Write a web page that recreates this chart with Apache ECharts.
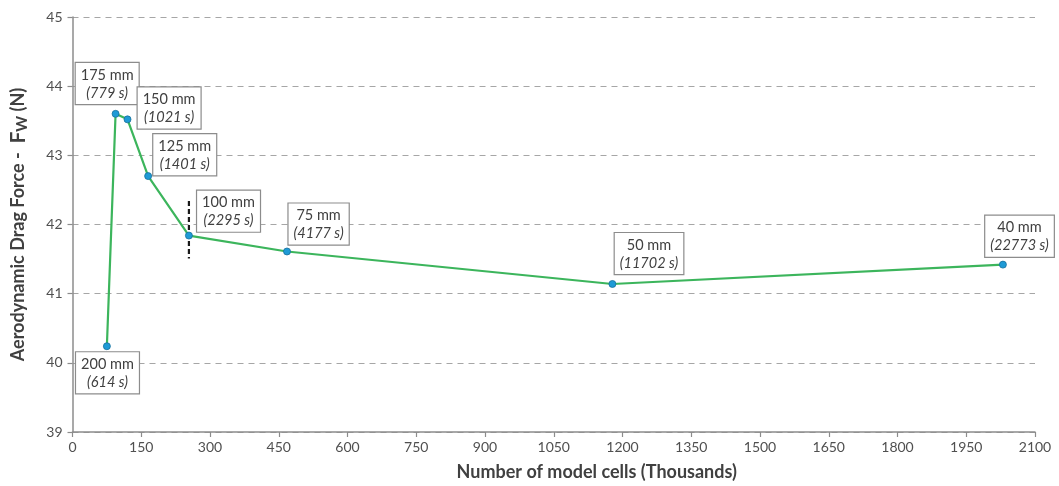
<!DOCTYPE html>
<html>
<head>
<meta charset="utf-8">
<script src="https://cdn.jsdelivr.net/npm/echarts@6/dist/echarts.min.js"></script>
<style>html,body{margin:0;padding:0;background:#fff}#c{width:1059px;height:486px}</style>
</head>
<body>
<div id="c"></div>
<script>
// Data
const cells = [75, 94, 120, 165, 254, 468, 1178, 2030];          // thousands of cells
const dragForce = [40.24, 43.60, 43.52, 42.70, 41.84, 41.61, 41.14, 41.42]; // N
const meshSizes = ['200 mm', '175 mm', '150 mm', '125 mm', '100 mm', '75 mm', '50 mm', '40 mm'];
const runTimes = ['614 s', '779 s', '1021 s', '1401 s', '2295 s', '4177 s', '11702 s', '22773 s'];
const markerX = [254, 254];
const markerY = [42.34, 41.51];

// Label layout (offset of label box centre from point, px)
const labelOffsets = [[1, 27], [-8, -30], [42, -11], [37, -21], [40, -24], [32, -27], [37, -30], [17, -28]];

const FONT = 'Lato, "Open Sans", sans-serif';
const SYM = 7;
const chart = echarts.init(document.getElementById('c'), null, { renderer: 'canvas' });

const seriesData = cells.map((x, i) => ({
  value: [x, dragForce[i]],
  label: {
    show: true,
    position: [SYM / 2 + labelOffsets[i][0], SYM / 2 + labelOffsets[i][1]],
    align: 'center',
    verticalAlign: 'middle',
    formatter: '{a|' + meshSizes[i] + '}\n{b|(' + runTimes[i] + ')}',
    backgroundColor: '#ffffff',
    borderColor: '#8c8c8c',
    borderWidth: 1.2,
    padding: [3, 5, 2, 5],
    rich: {
      a: { fontFamily: FONT, fontSize: 14.5, color: '#404040', lineHeight: 18, align: 'center' },
      b: { fontFamily: FONT, fontSize: 14.5, fontStyle: 'italic', color: '#404040', lineHeight: 18, align: 'center' }
    }
  }
}));

chart.setOption({
  animation: false,
  backgroundColor: '#ffffff',
  grid: { left: 71, right: 24, top: 17, bottom: 49, containLabel: false },
  xAxis: {
    type: 'value',
    min: 0, max: 2100, interval: 150,
    name: 'Number of model cells (Thousands)',
    nameLocation: 'middle',
    nameGap: 31,
    nameTextStyle: { fontFamily: FONT, fontSize: 18, fontWeight: 'bold', color: '#404040', padding: [0, 0, 0, 86] },
    axisLine: { show: true, lineStyle: { color: '#8c8c8c', width: 1.5 } },
    axisTick: { show: true, length: 5, lineStyle: { color: '#8c8c8c', width: 1.2 } },
    axisLabel: { fontFamily: FONT, fontSize: 14, color: '#505050', margin: 8, formatter: v => String(v) },
    splitLine: { show: false }
  },
  yAxis: {
    type: 'value',
    min: 39, max: 45, interval: 1,
    name: '{t|Aerodynamic Drag Force -  }{f|F}{s|W}{t| (N)}',
    nameLocation: 'middle',
    nameGap: 43,
    nameRotate: 90,
    nameTextStyle: {
      rich: {
        t: { fontFamily: FONT, fontSize: 18, fontWeight: 'bold', color: '#404040' },
        f: { fontFamily: FONT, fontSize: 21, fontWeight: 'bold', color: '#404040' },
        s: { fontFamily: FONT, fontSize: 15, fontWeight: 'bold', color: '#404040', verticalAlign: 'bottom', padding: [7, 0, 0, 0] }
      }
    },
    axisLine: { show: true, lineStyle: { color: '#8c8c8c', width: 1.5 } },
    axisTick: { show: true, length: 5, lineStyle: { color: '#8c8c8c', width: 1.2 } },
    axisLabel: { fontFamily: FONT, fontSize: 14, color: '#505050', margin: 10 },
    splitLine: { show: true, lineStyle: { color: '#a6a6a6', type: [6, 5], width: 1.2 } }
  },
  series: [
    {
      type: 'line',
      data: markerX.map((x, i) => [x, markerY[i]]),
      symbol: 'none',
      lineStyle: { color: '#1a1a1a', width: 2.2, type: [5, 3] },
      z: 1,
      silent: true
    },
    {
      type: 'line',
      data: seriesData,
      symbol: 'circle',
      symbolSize: SYM,
      showSymbol: true,
      showAllSymbol: true,
      lineStyle: { color: '#3cb55c', width: 2.2 },
      itemStyle: { color: '#1e9ad6', borderColor: '#16709c', borderWidth: 0.8 },
      z: 3,
      labelLayout: { hideOverlap: false }
    }
  ]
});
</script>
</body>
</html>
